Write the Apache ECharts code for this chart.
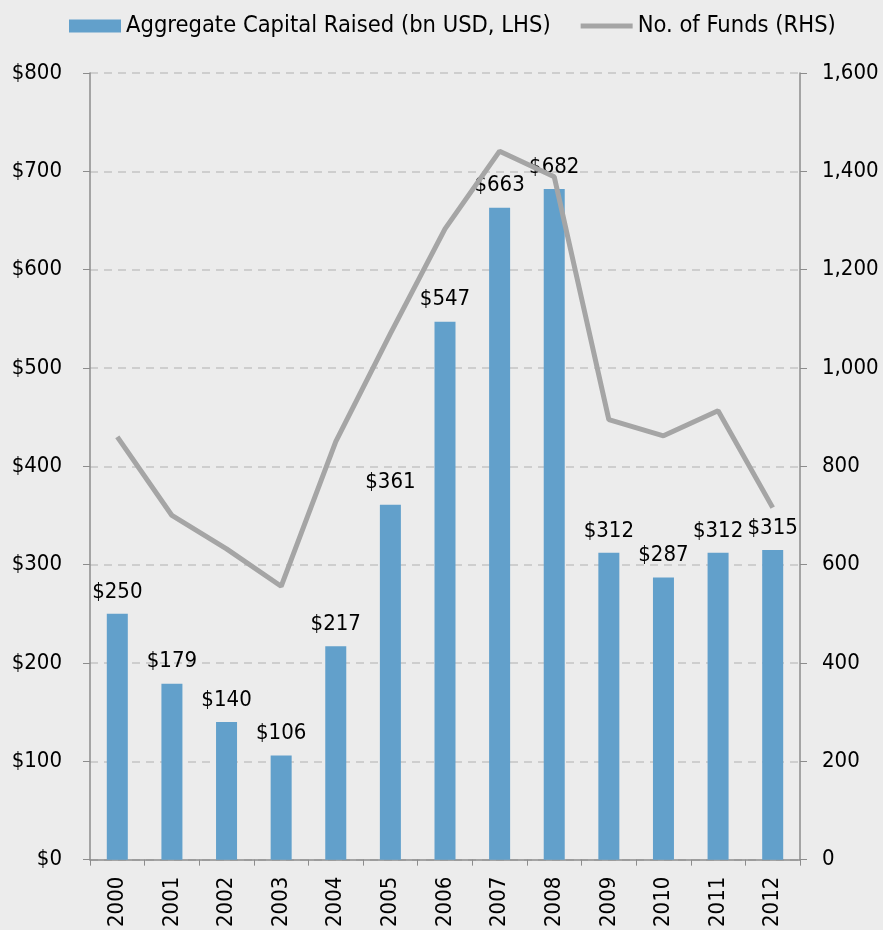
<!DOCTYPE html>
<html>
<head>
<meta charset="utf-8">
<script src="https://cdn.jsdelivr.net/npm/echarts@6/dist/echarts.min.js"></script>
<style>
html,body{margin:0;padding:0;background:#ececec;}
#chart{width:883px;height:930px;}
</style>
</head>
<body>
<div id="chart"></div>
<script>
const years = ['2000','2001','2002','2003','2004','2005','2006','2007','2008','2009','2010','2011','2012'];
const capitalRaised = [250, 179, 140, 106, 217, 361, 547, 663, 682, 312, 287, 312, 315];
const numFunds = [860, 700, 632, 556, 850, 1070, 1283, 1441, 1389, 895, 862, 913, 716];
const leftTicks = [0, 100, 200, 300, 400, 500, 600, 700, 800];
const rightTicks = [0, 200, 400, 600, 800, 1000, 1200, 1400, 1600];

const FONT = '"DejaVu Sans Condensed", "DejaVu Sans", sans-serif';
const LINE_ICON = 'path://M0,0 L0.01,0 L0,0.01 Z M0,4 L54,4 L54,9 L0,9 Z M54,13 L53.99,13 L54,12.99 Z';
const chart = echarts.init(document.getElementById('chart'), null, {renderer: 'canvas'});
chart.setOption({
  backgroundColor: '#ececec',
  animation: false,
  textStyle: {fontFamily: FONT, color: '#000'},
  legend: {
    top: 14, left: 69, padding: 0, itemGap: 30, itemWidth: 52, itemHeight: 13,
    textStyle: {fontFamily: FONT, fontSize: 23.5, color: '#000'},
    data: [
      {name: 'Aggregate Capital Raised (bn USD, LHS)', icon: 'rect'},
      {name: 'No. of Funds (RHS)', icon: LINE_ICON, itemStyle: {color: '#a5a5a5'}}
    ]
  },
  grid: {left: 90, right: 83, top: 73, bottom: 69, containLabel: false},
  xAxis: {
    type: 'category', data: years,
    axisLine: {lineStyle: {color: '#8c8c8c', width: 1.5}},
    axisTick: {show: true, alignWithLabel: false, length: 6, lineStyle: {color: '#8c8c8c'}},
    axisLabel: {rotate: 90, margin: 17, fontFamily: FONT, fontSize: 22, color: '#000'}
  },
  yAxis: [
    {
      type: 'value', min: 0, max: 800, interval: 100,
      axisLine: {show: true, lineStyle: {color: '#8c8c8c', width: 1.5}},
      axisTick: {show: true, length: 7, lineStyle: {color: '#8c8c8c'}},
      axisLabel: {margin: 28, fontFamily: FONT, fontSize: 22, color: '#000',
        formatter: v => leftTicks.includes(v) ? '$' + v : ''},
      splitLine: {show: true, lineStyle: {color: '#c4c4c4', type: [8, 6], width: 1.5}}
    },
    {
      type: 'value', min: 0, max: 1600, interval: 200,
      axisLine: {show: true, lineStyle: {color: '#8c8c8c', width: 1.5}},
      axisTick: {show: true, length: 7, lineStyle: {color: '#8c8c8c'}},
      axisLabel: {margin: 22, fontFamily: FONT, fontSize: 22, color: '#000',
        formatter: v => rightTicks.includes(v) ? v.toLocaleString('en-US') : ''},
      splitLine: {show: false}
    }
  ],
  series: [
    {
      name: 'Aggregate Capital Raised (bn USD, LHS)', type: 'bar', yAxisIndex: 0,
      data: capitalRaised, barWidth: 21,
      itemStyle: {color: '#62a0cb'},
      label: {show: true, position: 'top', distance: 11, fontFamily: FONT, fontSize: 22, color: '#000',
        formatter: p => '$' + p.value},
      z: 2
    },
    {
      name: 'No. of Funds (RHS)', type: 'line', yAxisIndex: 1,
      data: numFunds, showSymbol: false, symbol: 'none',
      lineStyle: {color: '#a5a5a5', width: 5},
      itemStyle: {color: '#a5a5a5'},
      z: 3
    }
  ]
});
</script>
</body>
</html>
